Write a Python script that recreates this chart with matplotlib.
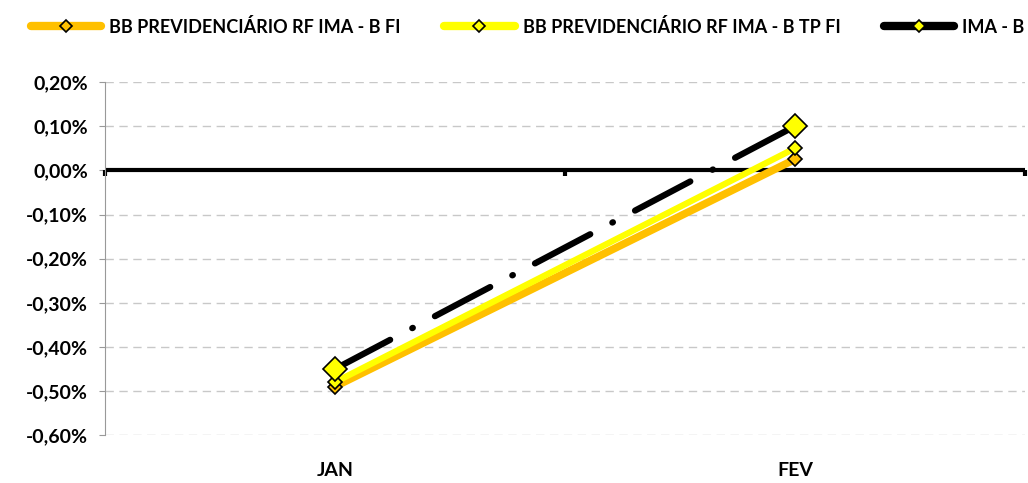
import matplotlib.pyplot as plt
from matplotlib.ticker import FuncFormatter

plt.rcParams['font.family'] = ['Lato', 'DejaVu Sans']

months = ["JAN", "FEV"]
bb_ima_b_fi = [-0.49, 0.025]
bb_ima_b_tp_fi = [-0.48, 0.05]
ima_b = [-0.45, 0.10]
y_ticks = [-0.6, -0.5, -0.4, -0.3, -0.2, -0.1, 0.0, 0.1, 0.2]

fig = plt.figure(figsize=(10.28, 4.83), dpi=100)
ax = fig.add_axes([0.102, 0.099, 0.895, 0.731])

x = range(len(months))

ax.plot(x, bb_ima_b_fi, color='#FFC000', lw=5.5, solid_capstyle='round',
        marker='D', markersize=7, markerfacecolor='#FFC000', markeredgecolor='black',
        markeredgewidth=1.2, label="BB PREVIDENCIÁRIO RF IMA - B FI", zorder=3)
ax.plot(x, bb_ima_b_tp_fi, color='#FFFF00', lw=4.5, solid_capstyle='round',
        marker='D', markersize=7, markerfacecolor='#FFFF00', markeredgecolor='black',
        markeredgewidth=1.2, label="BB PREVIDENCIÁRIO RF IMA - B TP FI", zorder=4)
ax.plot(x, ima_b, color='black', lw=4.5, dashes=(10, 4, 0.1, 4), dash_capstyle='round',
        marker='D', markersize=12, markerfacecolor='#FFFF00', markeredgecolor='black',
        markeredgewidth=1.2, label="IMA - B", zorder=5)

ax.set_xlim(-0.5, 1.5)
ax.set_ylim(-0.6, 0.2)
ax.set_yticks(y_ticks)
ax.yaxis.set_major_formatter(FuncFormatter(lambda v, p: f"{v:.2f}%".replace('.', ',')))
ax.yaxis.grid(True, color='#c8c8c8', linestyle=(0, (6, 4)), lw=1)
ax.set_axisbelow(True)

# zero line with category ticks
ax.axhline(0, color='black', lw=3, zorder=2)
for xb in [-0.5, 0.5, 1.5]:
    ax.plot([xb, xb], [0, -0.012], color='black', lw=3, solid_capstyle='butt', zorder=2, clip_on=False)

ax.set_xticks(list(x))
ax.set_xticklabels(months, fontsize=14, fontweight='bold')
ax.tick_params(axis='x', length=0, pad=19)
ax.tick_params(axis='y', labelsize=14, length=4, color='#999999', pad=8)
for lab in ax.get_yticklabels():
    lab.set_fontweight('bold')

for s in ['top', 'right', 'bottom']:
    ax.spines[s].set_visible(False)
ax.spines['left'].set_color('#999999')

# small legend markers, thick handle lines
handles, labels = ax.get_legend_handles_labels()
leg = fig.legend(handles, labels, loc='center left', bbox_to_anchor=(0.03, 0.945), ncol=3,
                 frameon=False, prop={'weight': 'bold', 'size': 13}, handlelength=3.9,
                 handletextpad=0.45, columnspacing=2.4, borderaxespad=0, borderpad=0)
for h in leg.legend_handles:
    h.set_linewidth(6)
    h.set_markersize(6)
    h.set_linestyle('-')
    h.set_solid_capstyle('round')

fig.savefig("out.png", dpi=100)
